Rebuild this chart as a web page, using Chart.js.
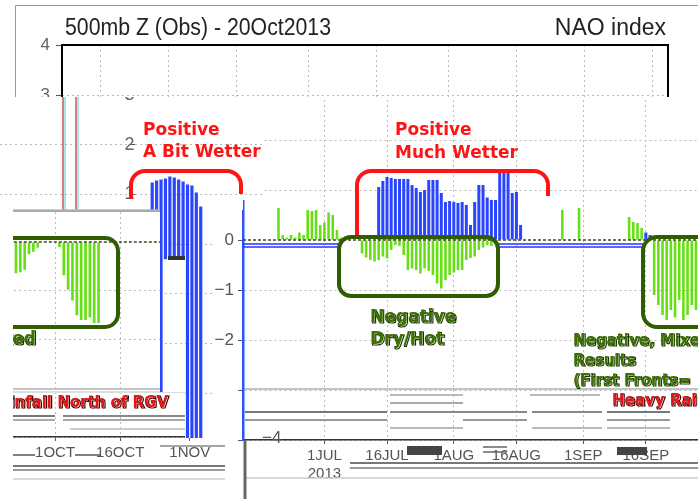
<!DOCTYPE html>
<html>
<head>
<meta charset="utf-8">
<title>NAO index</title>
<script src="https://cdn.jsdelivr.net/npm/chart.js@4.4.0/dist/chart.umd.min.js"></script>
<style>
  body { margin:0; width:698px; height:499px; overflow:hidden; background:#fff; position:relative; }
  .panel { position:absolute; overflow:hidden; background:#fff; }
  .panel canvas { position:absolute; }
</style>
</head>
<body>
<div class="panel" style="left:0;top:0;width:698px;height:97px;z-index:1">
  <canvas id="c1" width="698" height="499" style="left:0;top:0"></canvas></div>
<div class="panel" style="left:205px;top:97px;width:493px;height:402px;z-index:2">
  <canvas id="c4" width="530" height="499" style="left:0;top:-97px"></canvas></div>
<div class="panel" style="left:13px;top:210px;width:215px;height:275px;z-index:3;
  clip-path:polygon(0 0,192px 0,192px 230px,215px 230px,215px 275px,0 275px)">
  <canvas id="c3" width="230" height="475" style="left:0;top:-200px"></canvas></div>
<div class="panel" style="left:0;top:97px;width:265px;height:345px;z-index:4;
  clip-path:polygon(0 0,262px 0,262px 103px,243px 103px,243px 113px,212px 113px,212px 341px,185px 341px,185px 295px,160px 295px,160px 113px,0 113px)">
  <canvas id="c2" width="300" height="380" style="left:0;top:-20px"></canvas></div>
<script>
// daily NAO index (each panel of the collage separately)
const P1_START = '2013-06-08', P1_DAYS = 134;
const P1_TICKS = ['16JUN','1JUL','16JUL','1AUG','16AUG','1SEP','16SEP','1OCT','16OCT'];

const P2_START = '2013-05-03', P2_DAYS = 68;
const P2_BARS = { start: '6JUN', values: [[-0.3,1.24],[-0.3,1.28],[-3.9,1.3],[-0.3,1.32],[-0.3,1.36],[-0.3,1.34],
  [-0.3,1.3],[-0.3,1.26],[-3.9,1.2],[-3.9,1.18],[-3.9,1.04],[-4,0.76]] };

const P3_START = '2013-09-22', P3_DAYS = 44;
const P3_TICKS = ['1OCT','16OCT','1NOV'];
const P3_NEG = { start: '22SEP', values: [-0.64,-0.62,-0.57,-0.25,-0.2,-0.12,null,null,null,null,
  -0.1,-0.68,-0.98,-1.2,-1.5,-1.6,-1.6,-1.55,-1.66,-1.66] };

const P4_START = '2013-06-12', P4_DAYS = 109;
const P4_TICKS = ['1JUL','16JUL','1AUG','16AUG','1SEP','16SEP'];
const BLUE_JUL = { start: '14JUL', values: [1.06,1.18,1.26,1.24,1.22,1.22,1.22,1.22,1.1,1.04,0.96,1.0,1.2,1.2,1.2,
  0.94,0.76,0.78,0.76,0.74,0.76,0.7,0.3,0.76,1.1,1.1,0.85,0.8,0.8,1.4,1.42,1.4,0.94,0.96,0.3] };
const BLUE_SEP = { start: '16SEP', values: [0.15,0.1] };
const GREEN_JUN = { start: '20JUN', values: [0.64,0.1,0.05,0.1,0.05,0.15,0.1,0.6,0.58,0.6,0.3,0.35,0.55,0.5,0.2,0.05] };
const GREEN_JUL = { start: '10JUL', values: [-0.27,-0.35,-0.4,-0.43,-0.4,-0.33,-0.37,-0.2,-0.1,-0.12,-0.3,-0.6,-0.57,
  -0.6,-0.67,-0.57,-0.62,-0.7,-0.87,-0.97,-0.8,-0.7,-0.65,-0.6,-0.6,-0.4,-0.36,-0.33,-0.2,-0.15,-0.1,-0.12,-0.08] };
const GREEN_AUG = { start: '27AUG', values: [0.6,null,null,null,0.64] };
const GREEN_SEP1 = { start: '12SEP', values: [0.46,0.36,0.34,0.24] };
const GREEN_SEP2 = { start: '18SEP', values: [-1.1,-1.3,-1.5,-1.6,-1.4,-1.55,-1.2,-1.6,-1.5,-1.3,-1.4] };

const MON = ['JAN','FEB','MAR','APR','MAY','JUN','JUL','AUG','SEP','OCT','NOV','DEC'];
function dayLabels(start, n) {
  const out = [], d = new Date(start + 'T00:00:00Z');
  for (let i = 0; i < n; i++) { out.push(d.getUTCDate() + MON[d.getUTCMonth()]); d.setUTCDate(d.getUTCDate() + 1); }
  return out;
}
function place(labels, segs) {
  const arr = labels.map(() => null);
  segs.forEach(s => {
    const i0 = labels.indexOf(s.start);
    s.values.forEach((v, k) => { if (i0 + k < arr.length) arr[i0 + k] = v; });
  });
  return arr;
}

const P1_LABELS = dayLabels(P1_START, P1_DAYS);
const P2_LABELS = dayLabels(P2_START, P2_DAYS);
const P3_LABELS = dayLabels(P3_START, P3_DAYS);
const P4_LABELS = dayLabels(P4_START, P4_DAYS);

Chart.defaults.font.family = 'Liberation Sans';
Chart.defaults.animation = false;
Chart.defaults.responsive = false;
Chart.defaults.plugins.legend.display = false;
Chart.defaults.plugins.tooltip.enabled = false;

const RED = '#ff1414', GRN = '#2f5d00', TXTG = '#3b7100';
const BOLD = s => 'bold ' + s + 'px "DejaVu Sans"';

// draws zero lines, frames and the hand-drawn notes (notes given in page pixels)
const notes = {
  id: 'notes',
  afterDatasetsDraw(chart, args, o) {
    const ctx = chart.ctx, a = chart.chartArea;
    ctx.save();
    if (o.frame) {
      ctx.strokeStyle = '#000'; ctx.lineWidth = 2;
      ctx.strokeRect(a.left, a.top, a.right - a.left, a.bottom - a.top);
    }
    if (o.zero) {
      const y0 = chart.scales.y.getPixelForValue(0);
      ctx.setLineDash([3, 2]); ctx.strokeStyle = '#3b4a20'; ctx.lineWidth = 1.5;
      ctx.beginPath(); ctx.moveTo(a.left, y0); ctx.lineTo(a.right, y0); ctx.stroke();
      ctx.setLineDash([]);
      (o.blue || []).forEach(([x1, x2]) => {
        ctx.strokeStyle = '#2233ff'; ctx.lineWidth = 1.3;
        [4, 7].forEach(d => { ctx.beginPath(); ctx.moveTo(x1 - o.ox, y0 + d); ctx.lineTo(x2 - o.ox, y0 + d); ctx.stroke(); });
      });
    }
    ctx.translate(-o.ox, -o.oy);
    (o.items || []).forEach(it => {
      ctx.setLineDash(it.dash || []);
      ctx.beginPath();
      if (it.t === 'line') {
        ctx.strokeStyle = it.c; ctx.lineWidth = it.w || 2;
        ctx.moveTo(it.x1, it.y1); ctx.lineTo(it.x2, it.y2); ctx.stroke();
      } else if (it.t === 'rect') {
        ctx.fillStyle = it.c; ctx.fillRect(it.x, it.y, it.w, it.h);
      } else if (it.t === 'box') {
        ctx.strokeStyle = it.c; ctx.lineWidth = it.w;
        ctx.roundRect(it.x1, it.y1, it.x2 - it.x1, it.y2 - it.y1, it.r); ctx.stroke();
      } else if (it.t === 'bracket') {
        const r = it.r;
        ctx.strokeStyle = it.c; ctx.lineWidth = it.w;
        ctx.moveTo(it.x1, it.yl); ctx.lineTo(it.x1, it.y + r);
        ctx.arcTo(it.x1, it.y, it.x1 + r, it.y, r); ctx.lineTo(it.x2 - r, it.y);
        ctx.arcTo(it.x2, it.y, it.x2, it.y + r, r); ctx.lineTo(it.x2, it.yr); ctx.stroke();
      } else if (it.t === 'text') {
        ctx.font = it.f; ctx.textAlign = it.a || 'left'; ctx.textBaseline = 'middle';
        if (it.s) { ctx.strokeStyle = it.s; ctx.lineWidth = 1.2; ctx.strokeText(it.text, it.x + 1, it.y + 1); }
        ctx.fillStyle = it.c;
        if (it.mw) ctx.fillText(it.text, it.x, it.y, it.mw); else ctx.fillText(it.text, it.x, it.y);
      }
    });
    ctx.restore();
  }
};

const stripe = (y, x1, x2, c, w) => ({ t: 'line', x1, x2, y1: y, y2: y, c: c || '#999', w: w || 2 });

// top panel (title)
new Chart(document.getElementById('c1'), {
  type: 'bar',
  data: { labels: P1_LABELS, datasets: [] },
  options: {
    layout: { padding: { top: 45, right: 30, left: 0, bottom: 0 } },
    plugins: { notes: { ox: 0, oy: 0, frame: true, items: [
      { t: 'line', x1: 15.5, y1: 5.5, x2: 15.5, y2: 120, c: '#999', w: 1 },
      { t: 'line', x1: 15.5, y1: 5.5, x2: 700, y2: 5.5, c: '#999', w: 1 },
      { t: 'text', text: '500mb Z (Obs) - 20Oct2013', x: 65, y: 29, c: '#222', f: '23px "Liberation Sans"', mw: 266 },
      { t: 'text', text: 'NAO index', x: 666, y: 29, a: 'right', c: '#222', f: '23px "Liberation Sans"', mw: 121 }
    ] } },
    scales: {
      x: { ticks: { display: false, autoSkip: false }, border: { display: false, dash: [2, 3] },
        grid: { offset: false, drawTicks: false, color: c => P1_TICKS.includes(P1_LABELS[c.index]) ? '#bbb' : 'transparent' },
        afterFit(s) { s.height = 54; } },
      y: { min: -4, max: 4, ticks: { stepSize: 1, color: '#666', font: { size: 17 }, padding: 6 },
        grid: { color: '#bbb', tickColor: '#555', tickLength: 6 }, border: { display: false, dash: [2, 3] },
        afterFit(s) { s.width = 62; } }
    }
  },
  plugins: [notes]
});

// main panel (summer 2013)
new Chart(document.getElementById('c4'), {
  type: 'bar',
  data: { labels: P4_LABELS, datasets: [
    { label: 'NAO (positive, blue)', data: place(P4_LABELS, [BLUE_JUL, BLUE_SEP]), backgroundColor: '#2a45ff',
      grouped: false, barPercentage: 0.72, categoryPercentage: 1, order: 1 },
    { label: 'NAO (green)', data: place(P4_LABELS, [GREEN_JUN, GREEN_JUL, GREEN_AUG, GREEN_SEP1, GREEN_SEP2]),
      backgroundColor: '#66e014', grouped: false, barPercentage: 0.62, categoryPercentage: 1, order: 2 }
  ] },
  options: {
    layout: { padding: { top: 40, right: 37, left: 0, bottom: 0 } },
    plugins: { notes: { ox: 205, oy: 0, zero: true, blue: [[243, 339], [498, 643]], items: [
      stripe(389, 245, 698, '#c4c4c4'),
      stripe(395, 390, 463, '#bbb'), stripe(395, 530, 600, '#bbb'), stripe(403, 390, 463, '#aaa'),
      stripe(412, 245, 387, '#777'), stripe(412, 390, 527, '#888'), stripe(412, 532, 602, '#888'), stripe(412, 607, 670, '#777'),
      stripe(420, 245, 387, '#999'), stripe(420, 463, 527, '#999'), stripe(420, 607, 670, '#999'),
      stripe(428, 390, 463, '#bbb'), stripe(428, 532, 602, '#bbb'), stripe(428, 607, 670, '#bbb'),
      { t: 'rect', x: 407, y: 446, w: 35, h: 9, c: '#444' }, { t: 'rect', x: 617, y: 447, w: 30, h: 8, c: '#444' },
      stripe(447, 483, 507, '#666', 1.5), stripe(452, 483, 507, '#666', 1.5),
      stripe(463, 350, 698, '#777'), stripe(468, 350, 698, '#999'), stripe(478, 245, 698, '#ccc', 1.5),
      { t: 'line', x1: 245, y1: 440, x2: 245, y2: 499, c: '#666', w: 3 },
      { t: 'text', text: '\u22124', x: 262, y: 438, c: '#555', f: '17px "Liberation Sans"' },
      { t: 'bracket', x1: 357, x2: 548, y: 171, yl: 236, yr: 196, r: 14, w: 4, c: RED },
      { t: 'text', text: 'Positive', x: 395, y: 131, c: RED, f: BOLD(17) },
      { t: 'text', text: 'Much Wetter', x: 395, y: 154, c: RED, f: BOLD(17) },
      { t: 'box', x1: 339, y1: 237, x2: 498, y2: 296, r: 12, w: 4, c: GRN },
      { t: 'box', x1: 643, y1: 237, x2: 770, y2: 327, r: 14, w: 4, c: GRN },
      { t: 'text', text: 'Negative', x: 370, y: 318, c: TXTG, s: '#1d3300', f: BOLD(17) },
      { t: 'text', text: 'Dry/Hot', x: 370, y: 340, c: TXTG, s: '#1d3300', f: BOLD(17) },
      { t: 'text', text: 'Negative, Mixed', x: 573, y: 341, c: TXTG, s: '#1d3300', f: BOLD(15) },
      { t: 'text', text: 'Results', x: 573, y: 361, c: TXTG, s: '#1d3300', f: BOLD(15) },
      { t: 'text', text: '(First Fronts=', x: 573, y: 381, c: TXTG, s: '#1d3300', f: BOLD(15) },
      { t: 'text', text: 'Heavy Rainfall North of RGV)', x: 612, y: 401, c: '#e01818', s: '#3a0000', f: BOLD(15) }
    ] } },
    scales: {
      x: { ticks: { autoSkip: false, maxRotation: 0, color: '#555', font: { size: 15 }, padding: 3,
          callback(v) { const l = this.getLabelForValue(v); return l === '1JUL' ? ['1JUL', '2013'] : (P4_TICKS.includes(l) ? l : ''); } },
        grid: { offset: false, tickLength: 4, color: c => P4_TICKS.includes(P4_LABELS[c.index]) ? '#bbb' : 'transparent',
          tickColor: c => P4_TICKS.includes(P4_LABELS[c.index]) ? '#555' : 'transparent' },
        border: { display: true, color: '#333', width: 1.5, dash: [2, 3] },
        afterFit(s) { s.height = 59; } },
      y: { min: -4, max: 4, ticks: { stepSize: 1, color: '#555', font: { size: 17 }, padding: 4,
          callback: v => (v <= 0 && v >= -2) ? (v === 0 ? '0' : '\u2212' + (-v)) : '' },
        grid: { color: c => c.tick.value === 0 ? 'transparent' : '#bbb', tickColor: '#555', tickLength: 5 },
        border: { display: true, color: '#3050ff', width: 2.5, dash: [2, 3] },
        afterFit(s) { s.width = 38; } }
    }
  },
  plugins: [notes]
});

// autumn panel (left)
new Chart(document.getElementById('c3'), {
  type: 'bar',
  data: { labels: P3_LABELS, datasets: [
    { label: 'NAO (green)', data: place(P3_LABELS, [P3_NEG]), backgroundColor: '#66e014', barPercentage: 0.62, categoryPercentage: 1 }
  ] },
  options: {
    layout: { padding: { top: 37, right: 38, left: 0, bottom: 0 } },
    plugins: { notes: { ox: 13, oy: 10, zero: true, items: [
      stripe(211, 13, 160, '#aaa'),
      stripe(389, 13, 205, '#c4c4c4'), stripe(392, 13, 205, '#ddd'),
      stripe(416, 13, 55, '#777'), stripe(416, 63, 205, '#888'),
      stripe(420, 13, 55, '#aaa'), stripe(420, 63, 195, '#aaa'), stripe(429, 70, 205, '#ccc'),
      stripe(455, 13, 35, '#555', 1.5), stripe(455, 75, 100, '#555', 1.5), stripe(446, 160, 225, '#888', 1.5),
      stripe(466, 13, 225, '#777'), stripe(470, 13, 225, '#999'), stripe(479, 13, 225, '#ccc', 1.5),
      { t: 'box', x1: -30, y1: 238, x2: 118, y2: 327, r: 13, w: 4, c: GRN },
      { t: 'text', text: 'Negative, Mixed', x: 36, y: 340, a: 'right', c: TXTG, s: '#1d3300', f: BOLD(17) },
      { t: 'text', text: 'Heavy Rainfall North of RGV', x: 168, y: 403, a: 'right', c: '#e01818', s: '#3a0000', f: BOLD(15) }
    ] } },
    scales: {
      x: { ticks: { autoSkip: false, maxRotation: 0, color: '#555', font: { size: 15 }, padding: 3,
          callback(v) { const l = this.getLabelForValue(v); return P3_TICKS.includes(l) ? l : ''; } },
        grid: { offset: false, tickLength: 4, color: c => P3_TICKS.includes(P3_LABELS[c.index]) ? '#bbb' : 'transparent',
          tickColor: c => P3_TICKS.includes(P3_LABELS[c.index]) ? '#555' : 'transparent' },
        border: { display: true, color: '#333', width: 1.5, dash: [2, 3] },
        afterFit(s) { s.height = 48; } },
      y: { min: -4, max: 4, ticks: { display: false, stepSize: 1 },
        grid: { drawTicks: false, color: c => c.tick.value === 0 ? 'transparent' : '#bbb' },
        border: { display: false, dash: [2, 3] }, afterFit(s) { s.width = 0; } }
    }
  },
  plugins: [notes]
});

// early-summer panel (upper left, y axis placed inside the plot)
new Chart(document.getElementById('c2'), {
  type: 'bar',
  data: { labels: P2_LABELS, datasets: [
    { label: 'NAO (positive, blue)', data: place(P2_LABELS, [P2_BARS]), backgroundColor: '#2a45ff', barPercentage: 0.72, categoryPercentage: 1 }
  ] },
  options: {
    layout: { padding: { top: 18, right: 0, left: 0, bottom: 0 } },
    plugins: { notes: { ox: 0, oy: 77, items: [
      { t: 'line', x1: 63, y1: 97, x2: 63, y2: 210, c: '#d05050', w: 1.5 }, { t: 'line', x1: 65, y1: 97, x2: 65, y2: 210, c: '#50d0d0', w: 1 },
      { t: 'line', x1: 76, y1: 97, x2: 76, y2: 210, c: '#d05050', w: 1.5 }, { t: 'line', x1: 78, y1: 97, x2: 78, y2: 210, c: '#50d0d0', w: 1 },
      stripe(210, 13, 160, '#bbb', 1.5),
      { t: 'rect', x: 168, y: 256, w: 17, h: 4, c: '#333' },
      { t: 'bracket', x1: 131, x2: 241, y: 171, yl: 199, yr: 194, r: 14, w: 4, c: RED },
      { t: 'text', text: 'Positive', x: 143, y: 131, c: RED, f: BOLD(17) },
      { t: 'text', text: 'A Bit Wetter', x: 143, y: 153, c: RED, f: BOLD(17) }
    ] } },
    scales: {
      x: { ticks: { display: false }, grid: { display: false }, border: { display: false }, afterFit(s) { s.height = 12; } },
      y: { position: { x: 30 }, min: -4, max: 3,
        ticks: { stepSize: 1, color: '#666', font: { size: 18 }, padding: 3, callback: v => v > 0 ? String(v) : '' },
        grid: { color: '#bbb', tickColor: '#555', tickLength: 5 }, border: { display: false, dash: [2, 3] } }
    }
  },
  plugins: [notes]
});
</script>
</body>
</html>
